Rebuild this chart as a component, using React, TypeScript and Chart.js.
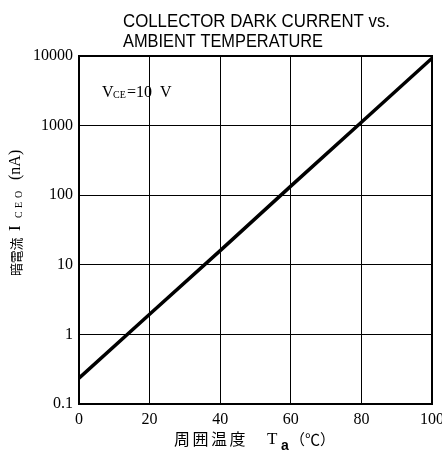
import { useEffect, useRef } from "react";
import { Chart, registerables } from "chart.js";

Chart.register(...registerables);

const titleLines = ["COLLECTOR DARK CURRENT vs.", "AMBIENT TEMPERATURE"];
const temperatures = [0, 20, 40, 60, 80, 100];
const darkCurrent = [0.235, 1.95, 16, 135, 1120, 9300];
const xTicks = [0, 20, 40, 60, 80, 100];
const yTicks = [0.1, 1, 10, 100, 1000, 10000];
const yTickLabels = ["0.1", "1", "10", "100", "1000", "10000"];
const conditionText = { main: "V", sub: "CE", rest: "=10  V" };
const yTitleParts = { jp: "暗電流", sym: "I", sub: "CEO", unit: "(nA)" };
const xTitleParts = { jp: "周囲温度", sym: "T", sub: "a", unit: "（℃）" };

const SERIF = '"Liberation Serif", "DejaVu Serif", serif';
const CJK = '"Noto Sans CJK JP", sans-serif';

const annotationPlugin = {
  id: "annotations",
  afterDraw(chart: any) {
    const ctx = chart.ctx as CanvasRenderingContext2D;
    const area = chart.chartArea;
    ctx.save();
    // frame
    ctx.strokeStyle = "#000";
    ctx.lineWidth = 2;
    ctx.strokeRect(area.left, area.top, area.right - area.left, area.bottom - area.top);

    ctx.fillStyle = "#000";
    ctx.textBaseline = "alphabetic";
    ctx.textAlign = "left";

    // title
    ctx.font = '19px "Liberation Sans", sans-serif';
    ctx.fillText(titleLines[0], 123, 27, 267);
    ctx.fillText(titleLines[1], 123, 47, 200);

    // condition annotation
    ctx.font = `16px ${SERIF}`;
    ctx.fillText(conditionText.main, 102, 97);
    ctx.font = `10px ${SERIF}`;
    ctx.fillText(conditionText.sub, 113, 98);
    ctx.font = `16px ${SERIF}`;
    ctx.fillText(conditionText.rest, 127, 97);

    // x axis title
    ctx.font = `16px ${CJK}`;
    let x = 174;
    for (const ch of xTitleParts.jp) {
      ctx.fillText(ch, x, 445);
      x += 18.5;
    }
    ctx.font = `17px ${SERIF}`;
    ctx.fillText(xTitleParts.sym, 267, 444);
    ctx.font = `bold 14px ${"Liberation Sans"}, sans-serif`;
    ctx.fillText(xTitleParts.sub, 281, 450);
    ctx.font = `15px ${CJK}`;
    ctx.fillText(xTitleParts.unit, 290, 445);

    // y axis title (rotated)
    ctx.translate(21, 276);
    ctx.rotate(-Math.PI / 2);
    ctx.font = `13px ${CJK}`;
    let p = 0;
    for (const ch of yTitleParts.jp) {
      ctx.fillText(ch, p, 0);
      p += 12.8;
    }
    ctx.font = `17px ${SERIF}`;
    ctx.fillText(yTitleParts.sym, 45, -1);
    ctx.font = `10px ${SERIF}`;
    let q = 58;
    for (const ch of yTitleParts.sub) {
      ctx.fillText(ch, q, 1);
      q += 10;
    }
    ctx.font = `16px ${SERIF}`;
    ctx.fillText(yTitleParts.unit, 96, -1);
    ctx.restore();
  },
};

export default function App() {
  const canvasRef = useRef<HTMLCanvasElement | null>(null);

  useEffect(() => {
    if (!canvasRef.current) return;
    const chart = new Chart(canvasRef.current, {
      type: "line",
      data: {
        datasets: [
          {
            data: temperatures.map((t, i) => ({ x: t, y: darkCurrent[i] })),
            borderColor: "#000",
            borderWidth: 3.5,
            pointRadius: 0,
            tension: 0,
            fill: false,
          },
        ],
      },
      options: {
        responsive: false,
        animation: false,
        layout: { padding: { top: 56, right: 10, left: 0, bottom: 0 } },
        plugins: { legend: { display: false }, tooltip: { enabled: false }, title: { display: false } },
        scales: {
          x: {
            type: "linear",
            min: 0,
            max: 100,
            afterBuildTicks: (s: any) => {
              s.ticks = xTicks.map((v) => ({ value: v }));
            },
            afterFit: (s: any) => {
              s.height = 49;
              s.paddingLeft = 0;
              s.paddingRight = 0;
            },
            ticks: {
              font: { family: SERIF, size: 16 },
              color: "#000",
              padding: 6,
              maxRotation: 0,
              autoSkip: false,
            },
            grid: { color: "#000", lineWidth: 1, drawTicks: false },
            border: { display: false },
          },
          y: {
            type: "logarithmic",
            min: 0.1,
            max: 10000,
            afterBuildTicks: (s: any) => {
              s.ticks = yTicks.map((v) => ({ value: v }));
            },
            afterFit: (s: any) => {
              s.width = 79;
              s.paddingTop = 0;
              s.paddingBottom = 0;
            },
            ticks: {
              font: { family: SERIF, size: 16 },
              color: "#000",
              padding: 6,
              autoSkip: false,
              callback: (v: any) => {
                const i = yTicks.findIndex((t) => Math.abs(t - Number(v)) < 1e-9 * Math.max(1, t));
                return i >= 0 ? yTickLabels[i] : "";
              },
            },
            grid: { color: "#000", lineWidth: 1, drawTicks: false },
            border: { display: false },
          },
        },
      },
      plugins: [annotationPlugin],
    } as any);
    return () => chart.destroy();
  }, []);

  return (
    <div style={{ position: "absolute", left: 0, top: 0, width: 442, height: 453, background: "#fff" }}>
      <canvas ref={canvasRef} width={442} height={453} />
    </div>
  );
}
